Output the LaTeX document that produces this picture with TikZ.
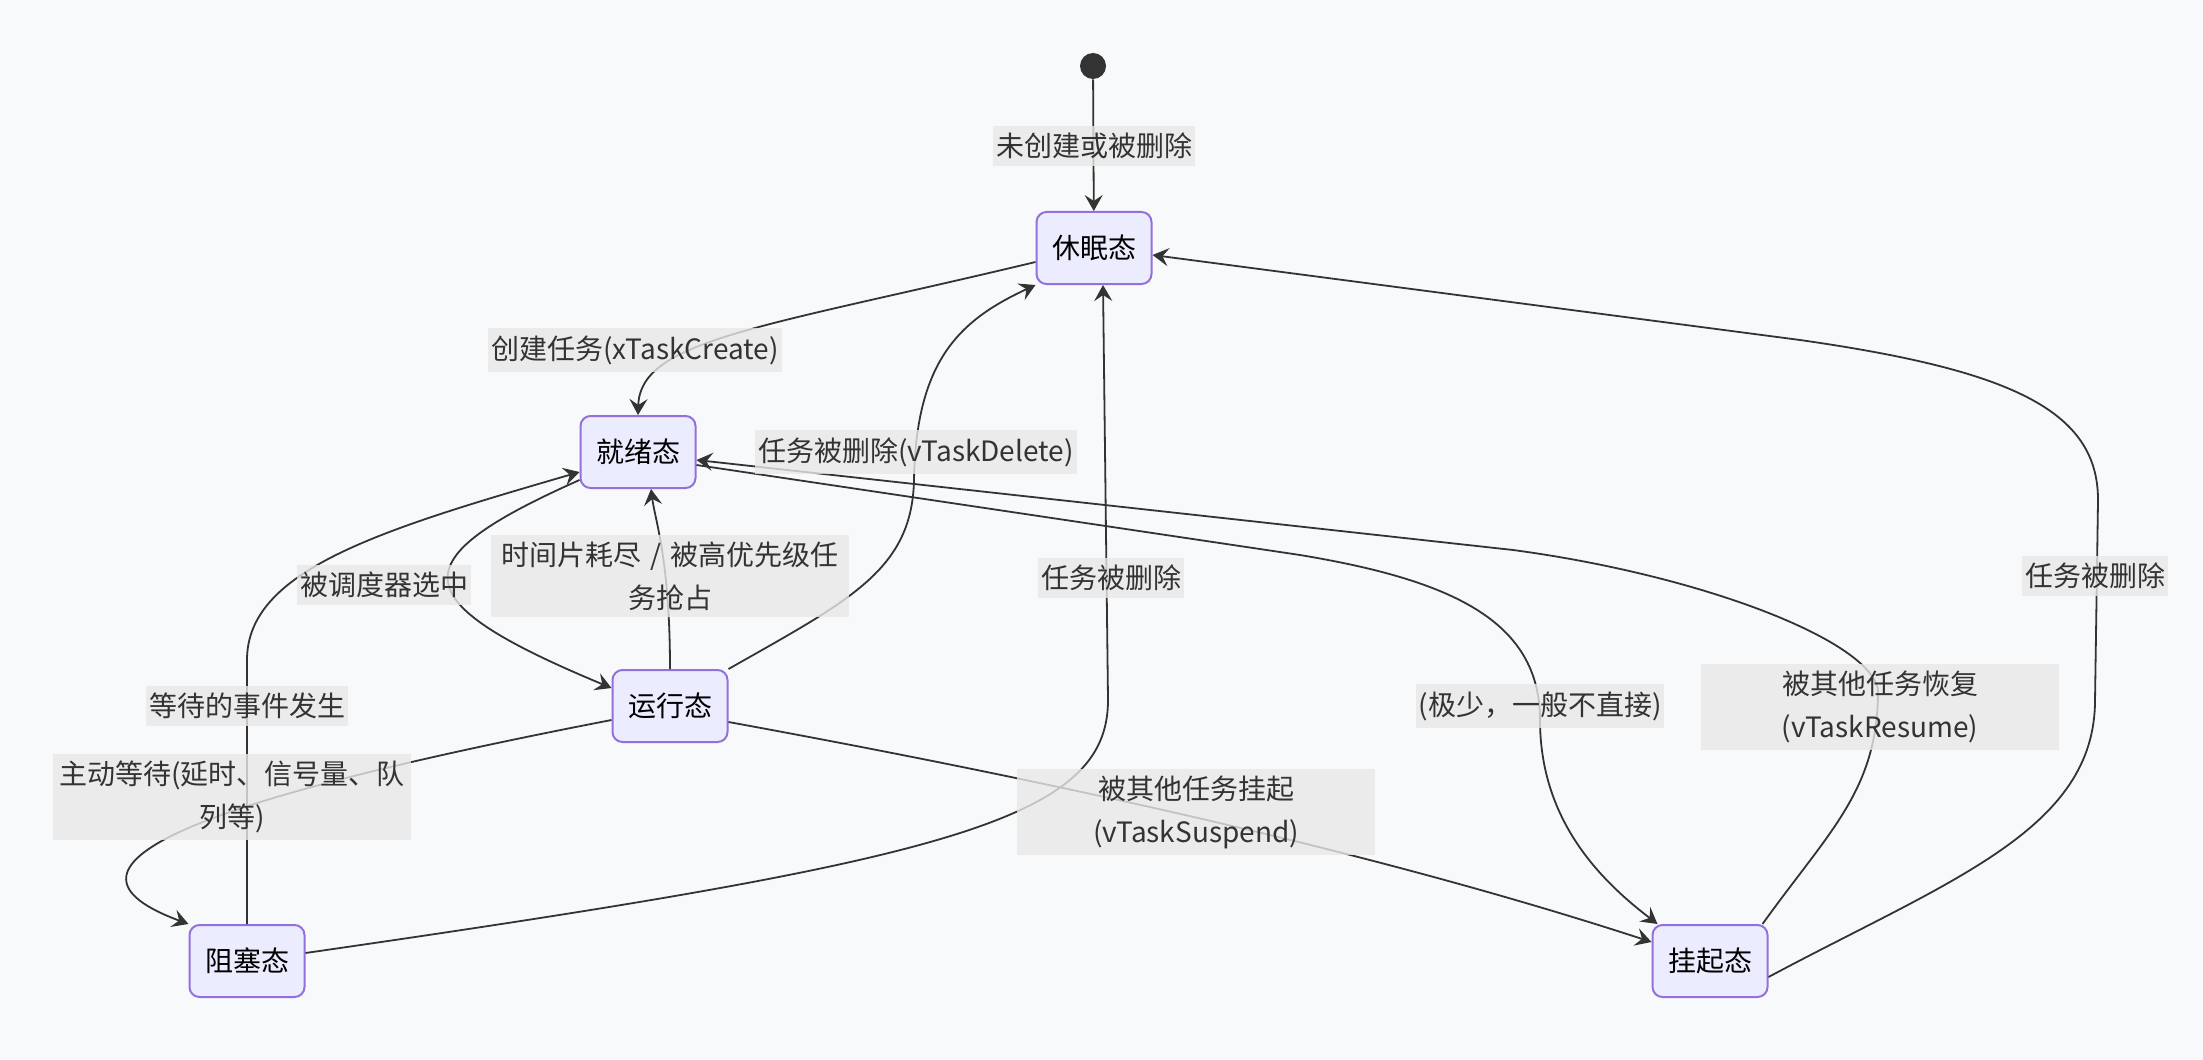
\documentclass[tikz,border=0pt]{standalone}
\usepackage{fontspec}
\setmainfont{Noto Sans CJK SC}
\usetikzlibrary{arrows.meta}
\definecolor{bgpage}{RGB}{248,249,250}
\definecolor{statefill}{RGB}{236,236,255}
\definecolor{stateline}{RGB}{147,112,219}
\definecolor{ink}{RGB}{51,51,51}
\definecolor{lblfill}{RGB}{232,232,232}

\begin{document}
\begin{tikzpicture}[x=0.5pt,y=-0.5pt,
  state/.style={draw=stateline,line width=1pt,fill=statefill,rounded corners=5pt,
    minimum width=57.5pt,minimum height=36pt,font=\fontsize{14}{21}\selectfont},
  lbl/.style={fill=lblfill,fill opacity=0.8,text opacity=1,text=ink,inner xsep=1.5pt,
    inner ysep=3.5pt,align=center,font=\fontsize{14}{21.5}\selectfont},
  wraplbl/.style={lbl,text width=176pt},
  tr/.style={draw=ink,line width=0.9pt,-{Stealth[length=8pt,width=9pt,inset=3pt]}}]
\fill[bgpage] (0,0) rectangle (2203,1059);
\useasboundingbox (0,0) rectangle (2203,1059);
\node[circle,fill=ink,minimum size=13pt,inner sep=0pt] (start) at (1093,66) {};
\node[state] (sleep) at (1094,248) {休眠态};
\node[state] (ready) at (638,452) {就绪态};
\node[state] (run) at (670,706) {运行态};
\node[state] (block) at (247,961) {阻塞态};
\node[state] (susp) at (1710,961) {挂起态};
\draw[tr] (start) -- (sleep);
\draw[tr] ([yshift=-7pt]sleep.west) .. controls (760,328) and (640,340) .. (ready.north);
\draw[tr] (run.north) .. controls (670,560) and (655,520) .. ([xshift=6.5pt]ready.south);
\draw[tr] ([yshift=-14pt]ready.west) .. controls (400,560) and (400,600) .. ([yshift=9pt]run.west);
\draw[tr] (block.north) -- (247,660) .. controls (247,570) and (380,530) .. ([yshift=-10pt]ready.west);
\draw[tr] ([yshift=-7pt]run.west) .. controls (250,790) and (15,860) .. (block.north west);
\draw[tr] ([yshift=4pt]block.east) .. controls (950,860) and (1108,820) .. (1108,700)
  -- ([xshift=4.5pt]sleep.south);
\draw[tr] (run.north east) .. controls (850,600) and (912,570) .. (914,480)
  .. controls (916,360) and (960,320) .. (sleep.south west);
\draw[tr] ([xshift=-3pt]susp.north east) .. controls (1830,830) and (1878,790) .. (1878,690)
  .. controls (1870,640) and (1700,575) .. (1513,550) -- ([yshift=-4pt]ready.east);
\draw[tr] ([yshift=-6.5pt]ready.east) -- (1300,555) .. controls (1450,580) and (1540,620) .. (1540,720)
  .. controls (1540,820) and (1600,880) .. ([xshift=3pt]susp.north west);
\draw[tr] ([yshift=-8pt]run.east) .. controls (1100,790) and (1400,860) .. ([yshift=9.5pt]susp.west);
\draw[tr] ([yshift=-8pt]susp.east) .. controls (1950,880) and (2095,830) .. (2095,700)
  -- (2098,500) .. controls (2098,410) and (2010,370) .. (1800,340) -- ([yshift=-3.5pt]sleep.east);
\node[lbl] (lblinit) at (1094,146) {未创建或被删除};
\node[lbl] (lblcreate) at (635,350) {创建任务(xTaskCreate)};
\node[lbl] (lbldelete) at (916,452) {任务被删除(vTaskDelete)};
\node[wraplbl] (lblpreempt) at (670,576) {时间片耗尽 / 被高优先级任\\务抢占};
\node[lbl] (lblsched) at (384,585) {被调度器选中};
\node[lbl] (lblevent) at (247,706) {等待的事件发生};
\node[wraplbl] (lblwait) at (232,797) {主动等待(延时、信号量、队\\列等)};
\node[lbl] (lblblockdel) at (1111,578) {任务被删除};
\node[wraplbl] (lblsuspend) at (1196,812) {被其他任务挂起\\(vTaskSuspend)};
\node[lbl] (lblrare) at (1540,706) {(极少，一般不直接)};
\node[wraplbl] (lblresume) at (1880,707) {被其他任务恢复\\(vTaskResume)};
\node[lbl] (lblsuspdel) at (2095,576) {任务被删除};
\end{tikzpicture}
\end{document}
